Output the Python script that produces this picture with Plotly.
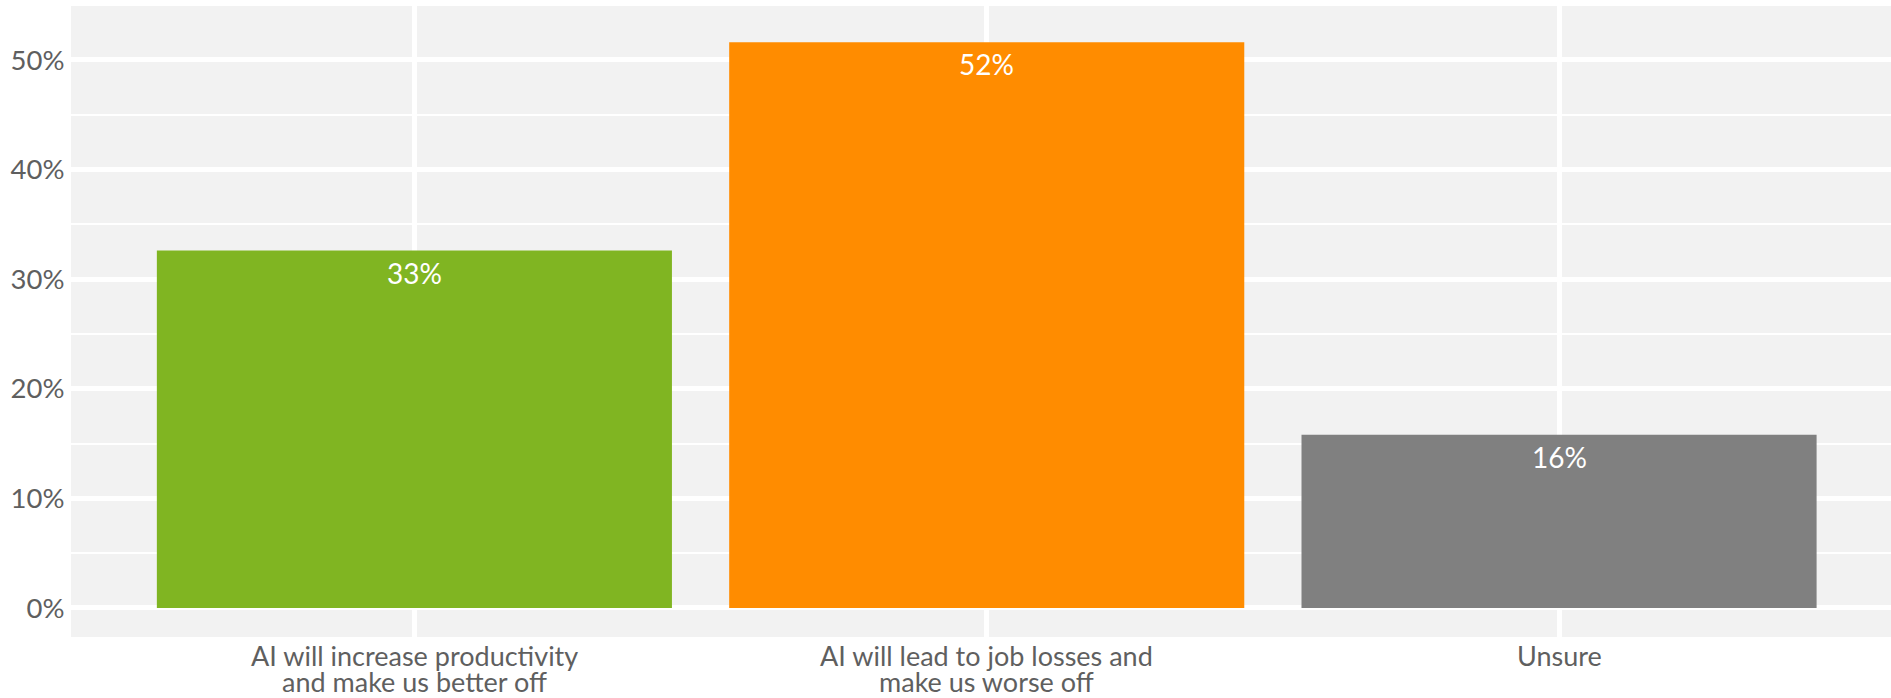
import plotly.graph_objects as go

categories = ["AI will increase productivity<br>and make us better off",
              "AI will lead to job losses and<br>make us worse off",
              "Unsure"]
values = [0.326, 0.516, 0.158]
bar_labels = ["33%", "52%", "16%"]
colors = ["#80B522", "#FF8C00", "#808080"]

FONT = "Lato"
TXT = "#5f5f5f"
fig = go.Figure()
fig.add_trace(go.Bar(
    x=categories, y=values, marker=dict(color=colors, line=dict(width=0)),
    width=0.9, hoverinfo="skip",
))
for c, v, t in zip(categories, values, bar_labels):
    fig.add_annotation(x=c, y=v, text=t, showarrow=False, yanchor="middle",
                       yshift=-22, font=dict(family=FONT, size=28, color="white"))

# category labels (two tight lines, as in the reference)
for c in categories:
    for i, line in enumerate(c.split("<br>")):
        fig.add_annotation(x=c, xref="x", y=0, yref="paper", text=line, showarrow=False,
                           yanchor="middle", yshift=-18 - 26 * i,
                           font=dict(family=FONT, size=27, color=TXT))

fig.update_layout(
    width=1891, height=698,
    margin=dict(l=71, r=0, t=4, b=61, autoexpand=False),
    paper_bgcolor="white", plot_bgcolor="#F2F2F2",
    showlegend=False,
    font=dict(family=FONT, size=27, color=TXT),
)
fig.update_xaxes(range=[-0.6, 2.58], showgrid=True, gridcolor="white", gridwidth=4.5,
                 zeroline=False, showline=False, showticklabels=False, ticks="",
                 automargin=False)
fig.update_yaxes(range=[-0.0265, 0.551], dtick=0.1, tickformat=".0%",
                 showgrid=True, gridcolor="white", gridwidth=4.5,
                 minor=dict(dtick=0.05, showgrid=True, gridcolor="white", gridwidth=2.2),
                 zeroline=False, showline=False, ticks="outside", ticklen=0,
                 tickcolor="rgba(0,0,0,0)", automargin=False,
                 tickfont=dict(family=FONT, size=27.5, color=TXT))

fig.write_html("out.html", config={"displayModeBar": False},
               post_script="document.body.style.margin='0';document.body.style.overflow='hidden';")
